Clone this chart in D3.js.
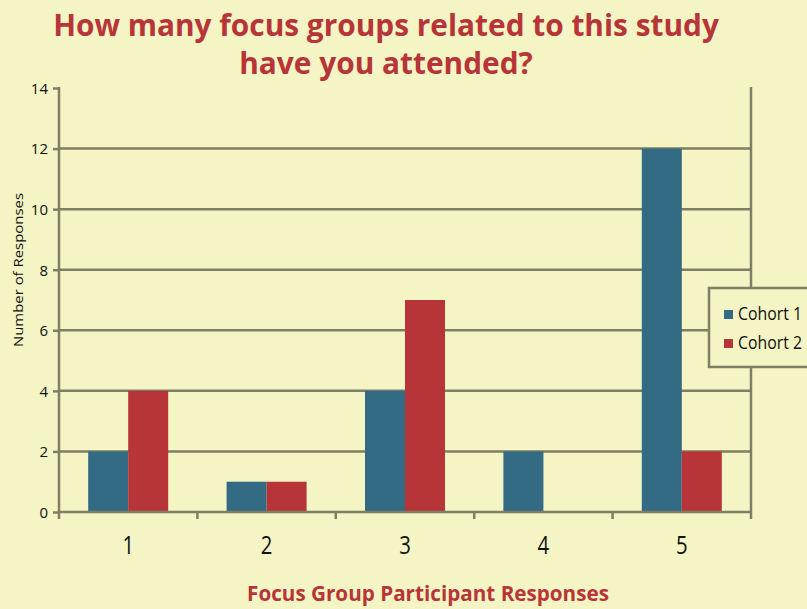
<!DOCTYPE html>
<html>
<head>
<meta charset="utf-8">
<script src="https://cdn.jsdelivr.net/npm/d3@7"></script>
<style>
  html, body { margin: 0; padding: 0; background: #f4f4c4; }
  svg { display: block; }
</style>
</head>
<body>
<div id="chart"></div>
<script>
(function(){
    var width = 807, height = 609;

    // data
    var categories = ["1", "2", "3", "4", "5"];
    var seriesNames = ["Cohort 1", "Cohort 2"];
    var cohort1 = [2, 1, 4, 2, 12];
    var cohort2 = [4, 1, 7, 0, 2];
    var yTicks = [0, 2, 4, 6, 8, 10, 12, 14];
    var titleLines = ["How many focus groups related to this study", "have you attended?"];

    var colors = ["#336a84", "#b73538"];
    var gridColor = "#7f7f66";
    var bg = "#f4f4c4";
    var font = "'Open Sans', sans-serif";

    var margin = {left: 59, right: 56, top: 88, bottom: 97};

    var svg = d3.select("#chart")
    .append("svg")
    .attr("width", width)
    .attr("height", height);

    svg.append("rect")
    .attr("width", width)
    .attr("height", height)
    .attr("fill", bg);

    var x = d3.scaleBand()
    .domain(categories)
    .range([margin.left, width - margin.right]);

    var x1 = d3.scaleBand()
    .domain(seriesNames)
    .range([0, x.bandwidth()])
    .paddingInner(0)
    .paddingOuter(0.73);

    var y = d3.scaleLinear()
    .domain([0, 14])
    .range([height - margin.bottom, margin.top]);

    // gridlines
    svg.append("g")
    .selectAll("line")
    .data(yTicks.filter(function(d){ return d > 0 && d < 14; }))
    .enter().append("line")
    .attr("x1", margin.left)
    .attr("x2", width - margin.right)
    .attr("y1", function(d){ return y(d); })
    .attr("y2", function(d){ return y(d); })
    .attr("stroke", gridColor)
    .attr("stroke-width", 2.5);

    // right border line
    svg.append("line")
    .attr("x1", width - margin.right)
    .attr("x2", width - margin.right)
    .attr("y1", y(14) - 1)
    .attr("y2", y(0))
    .attr("stroke", gridColor)
    .attr("stroke-width", 2.5);

    // bars
    var rows = categories.map(function(c, i){
        return {cat: c, values: [cohort1[i], cohort2[i]]};
    });

    svg.append("g")
    .selectAll("g")
    .data(rows)
    .enter().append("g")
    .attr("transform", function(d){ return "translate(" + x(d.cat) + ",0)"; })
    .selectAll("rect")
    .data(function(d){
        return d.values.map(function(v, j){ return {name: seriesNames[j], value: v, j: j}; });
    })
    .enter().append("rect")
    .attr("x", function(d){ return x1(d.name); })
    .attr("width", x1.bandwidth())
    .attr("y", function(d){ return y(d.value); })
    .attr("height", function(d){ return y(0) - y(d.value); })
    .attr("fill", function(d){ return colors[d.j]; });

    // y axis
    var yAxis = svg.append("g")
    .attr("transform", "translate(" + margin.left + ",0)")
    .call(d3.axisLeft(y).tickValues(yTicks).tickSize(6).tickPadding(5));
    yAxis.select(".domain").attr("stroke", gridColor).attr("stroke-width", 2.5)
    .attr("d", "M0," + (y(14) - 1) + "V" + y(0));
    yAxis.selectAll(".tick line").attr("stroke", gridColor).attr("stroke-width", 2.5);
    yAxis.selectAll(".tick text")
    .attr("fill", "#111")
    .attr("dy", "0.36em")
    .style("font-family", font)
    .style("font-size", "15px");

    // x axis
    var xAxis = svg.append("g")
    .attr("transform", "translate(0," + y(0) + ")")
    .call(d3.axisBottom(x).tickSize(0).tickPadding(0));
    xAxis.select(".domain").attr("stroke", gridColor).attr("stroke-width", 2.5)
    .attr("d", "M" + margin.left + ",0H" + (width - margin.right));
    xAxis.selectAll(".tick text")
    .attr("fill", "#111")
    .attr("dy", null)
    .attr("y", 0)
    .attr("transform", "translate(0,42) scale(0.78,1)")
    .style("font-family", font)
    .style("font-size", "26px");

    // category boundary ticks
    var bounds = categories.map(function(c){ return x(c); }).concat([width - margin.right]);
    svg.append("g")
    .selectAll("line")
    .data(bounds)
    .enter().append("line")
    .attr("x1", function(d){ return d; })
    .attr("x2", function(d){ return d; })
    .attr("y1", y(0))
    .attr("y2", y(0) + 7)
    .attr("stroke", gridColor)
    .attr("stroke-width", 2.5);

    // title
    var title = svg.append("g")
    .selectAll("text")
    .data(titleLines)
    .enter().append("text")
    .attr("x", 386)
    .attr("y", function(d, i){ return 36 + i * 38; })
    .attr("text-anchor", "middle")
    .attr("fill", "#b73538")
    .style("font-family", font)
    .style("font-weight", "bold")
    .style("font-size", "30px")
    .text(function(d){ return d; });

    // shrink title to the width seen in the picture
    var first = title.filter(function(d, i){ return i === 0; }).node();
    var w = first.getComputedTextLength();
    title.style("font-size", (30 * 666 / w) + "px");

    // axis titles
    svg.append("text")
    .attr("transform", "translate(23," + ((y(0) + y(14)) / 2 - 30) + ") rotate(-90)")
    .attr("text-anchor", "middle")
    .attr("fill", "#111")
    .attr("textLength", 154)
    .attr("lengthAdjust", "spacingAndGlyphs")
    .style("font-family", font)
    .style("font-size", "13px")
    .text("Number of Responses");

    var xt = svg.append("text")
    .attr("x", 428)
    .attr("y", 601)
    .attr("text-anchor", "middle")
    .attr("fill", "#b73538")
    .style("font-family", font)
    .style("font-weight", "bold")
    .style("font-size", "19px")
    .text("Focus Group Participant Responses");
    var xw = xt.node().getComputedTextLength();
    xt.style("font-size", (19 * 362 / xw) + "px");

    // legend
    var legend = svg.append("g").attr("transform", "translate(709,288)");
    legend.append("rect")
    .attr("width", 110)
    .attr("height", 79)
    .attr("fill", bg)
    .attr("stroke", gridColor)
    .attr("stroke-width", 2.5);

    var items = legend.selectAll(".item")
    .data(seriesNames)
    .enter().append("g")
    .attr("class", "item")
    .attr("transform", function(d, i){ return "translate(15," + (22 + i * 29) + ")"; });
    items.append("rect")
    .attr("width", 9)
    .attr("height", 9)
    .attr("fill", function(d, i){ return colors[i]; });
    items.append("text")
    .attr("x", 14)
    .attr("y", 10)
    .attr("fill", "#111")
    .attr("textLength", 64)
    .attr("lengthAdjust", "spacingAndGlyphs")
    .style("font-family", font)
    .style("font-size", "18px")
    .text(function(d){ return d; });
})();
</script>
</body>
</html>
